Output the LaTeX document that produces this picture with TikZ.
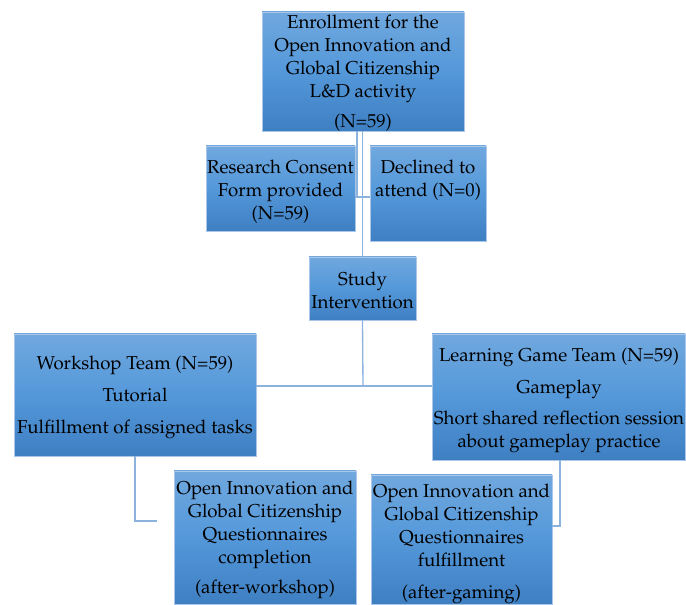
\documentclass[tikz,border=0pt]{standalone}
\usepackage[T1]{fontenc}
\usepackage{mathpazo}
\definecolor{boxtop}{RGB}{112,168,222}
\definecolor{boxmid}{RGB}{84,152,218}
\definecolor{boxbot}{RGB}{62,127,194}
\definecolor{boxline}{RGB}{170,198,233}
\definecolor{conn}{RGB}{140,178,222}
\tikzset{
  box/.style={draw=boxline, line width=0.6pt, top color=boxtop, bottom color=boxbot, middle color=boxmid, inner sep=0pt},
  txt/.style={align=center, inner sep=0pt, font=\fontsize{14pt}{17.25pt}\selectfont, text=black},
  link/.style={draw=conn, line width=1pt}
}
\begin{document}
\begin{tikzpicture}[x=0.75pt,y=-0.75pt]
\useasboundingbox (0,0) rectangle (686,605);
% boxes
\node[box, minimum width=151.5pt, minimum height=89.25pt] (top) at (363,71.5) {};
\node[box, minimum width=111.75pt, minimum height=63.75pt] (res) at (280.5,188.5) {};
\node[box, minimum width=87pt, minimum height=71.25pt] (decl) at (428,193.5) {};
\node[box, minimum width=80.25pt, minimum height=47.25pt] (study) at (362.5,288.5) {};
\node[box, minimum width=181.5pt, minimum height=91.5pt] (work) at (135,395) {};
\node[box, minimum width=189.75pt, minimum height=94.5pt] (learn) at (558.5,397) {};
\node[box, minimum width=136.5pt, minimum height=99.75pt] (qw) at (265,537.5) {};
\node[box, minimum width=135.75pt, minimum height=96.75pt] (qg) at (461.5,539.5) {};
% texts
\node[txt] (topT) at (363,73) {Enrollment for the\\Open Innovation and\\Global Citizenship\\L\&D activity\\[5.5pt](N=59)};
\node[txt] (resT) at (280.5,192) {Research Consent\\Form provided\\(N=59)};
\node[txt] (declT) at (428,180.5) {Declined to\\attend (N=0)};
\node[txt] (studyT) at (362.5,290.5) {Study\\Intervention};
\node[txt] (workT) at (135,397) {Workshop Team (N=59)\\[6.75pt]Tutorial\\[6.75pt]Fulfillment of assigned tasks};
\node[txt] (learnT) at (559,400) {Learning Game Team (N=59)\\[6.75pt]Gameplay\\[6pt]Short shared reflection session\\about gameplay practice};
\node[txt] (qwT) at (265,539.5) {Open Innovation and\\Global Citizenship\\Questionnaires\\completion\\[5.25pt](after-workshop)};
\node[txt] (qgT) at (461.5,544) {Open Innovation and\\Global Citizenship\\Questionnaires\\fulfillment\\[6.75pt](after-gaming)};
% connectors
\coordinate (j1) at (357,197);
\coordinate (j2) at (363,386);
\coordinate (j3) at (135,521);
\coordinate (wend) at (157,521);
\coordinate (j4) at (560,526);
\draw[link] (top.south -| j1) -- (j1) -- (decl.west |- j1);
\draw[link] (res.east |- j1) -- (j1);
\draw[link] (top.south -| study.north) -- (study.north);
\draw[link] (study.south) -- (j2);
\draw[link] (work.east |- j2) -- (learn.west |- j2);
\draw[link] (work.south) -- (j3) -- (wend);
\draw[link] (learn.south -| j4) -- (j4) -- (qg.east |- j4);
\end{tikzpicture}
\end{document}
